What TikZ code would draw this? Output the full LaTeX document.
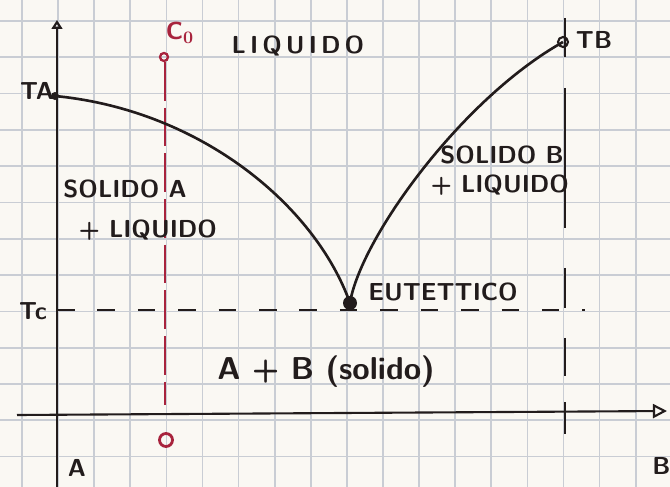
\documentclass[tikz,border=0pt]{standalone}
\usepackage{amsmath}
\usetikzlibrary{calc, positioning}
\usetikzlibrary{arrows.meta}

\definecolor{paper}{HTML}{FAF8F3}
\definecolor{gridblue}{HTML}{C9CDD4}
\definecolor{ink}{HTML}{221C1C}
\definecolor{redink}{HTML}{A8233D}

\tikzset{
  gridline/.style={gridblue, line width=1pt},
  curve/.style={ink, line width=1.5pt},
  axis/.style={ink, line width=1.2pt},
  hand/.style={ink, font=\sffamily\bfseries\fontsize{14}{16}\selectfont, inner sep=0pt},
  redhand/.style={redink, font=\sffamily\bfseries\fontsize{14}{16}\selectfont, inner sep=0pt}
}

\begin{document}
\begin{tikzpicture}[x=0.02cm, y=-0.02cm]
      \def\xa{57}
      \def\ya{413}
      \def\xb{565}
      \def\tc{310}
      % paper and grid
      \fill[paper] (0,0) rectangle (670,487);
      \useasboundingbox (0,0) rectangle (670,487);
      \foreach \i in {0,...,18} \draw[gridline] ({22+36.1*\i},0) -- ++(0,487);
      \foreach \j in {0,...,13} \draw[gridline] (0,{21+36.3*\j}) -- ++(670,0);
      % axes
      \draw[axis, -{Triangle[open, length=5pt, width=6pt]}] (\xa,487) -- (\xa,20);
      \draw[axis, -{Triangle[open, length=8pt, width=8pt]}] (17,415) -- (667,411);
      \node[hand] (labA) at (77,468) {A};
      \node[hand, anchor=west] (labB) at (652,466) {B};
      % eutectic temperature
      \draw[ink, line width=1.1pt, dash pattern=on 10pt off 13pt] (\xa,\tc) -- (585,\tc);
      \node[hand] (labTc) at (33,311) {Tc};
      % vertical through TB
      \foreach \a/\b in {18/57, 88/228, 268/308, 338/376, 402/434}
        \draw[ink, line width=1.1pt] (\xb,\a) -- (\xb,\b);
      % composition C0
      \draw[redink, line width=1.3pt, dash pattern=on 22pt off 4pt] (165,62) -- (165,405);
      \draw[redink, line width=1.3pt] (164,57) circle (4);
      \draw[redink, line width=1.6pt] (166,440) circle (6.5);
      \node[redhand] (labC) at (180,33) {C$_{\boldsymbol{0}}$};
      % liquidus curves
      \coordinate (TA) at (55,96);
      \coordinate (TB) at (563,42);
      \coordinate (E) at (350,303);
      \draw[curve] (TA) .. controls (200,110) and (315,205) .. (E);
      \draw[curve] (E) .. controls (360,240) and (460,100) .. (TB);
      \fill[ink] (TA) circle (4);
      \draw[ink, line width=1.2pt] (TB) circle (5);
      \fill[ink] (E) circle (7);
      \node[hand] (labTA) at (37,91) {TA};
      \node[hand] (labTB) at (594,40) {TB};
      % regions
      \node[hand] (liq) at (298,46) {L\,I\,Q\,U\,I\,D\,O};
      \node[hand] (solA) at (125,189) {SOLIDO A};
      \node[hand] (liqA) at (148,230) {+ LIQUIDO};
      \node[hand] (solB) at (502,155) {SOLIDO B};
      \node[hand] (liqB) at (500,185) {+ LIQUIDO};
      \node[hand] (eut) at (443,292) {EUTETTICO};
      \node[hand, font=\sffamily\bfseries\fontsize{18}{20}\selectfont] (sol) at (326,372) {A + B (solido)};
    \end{tikzpicture}
\end{document}
